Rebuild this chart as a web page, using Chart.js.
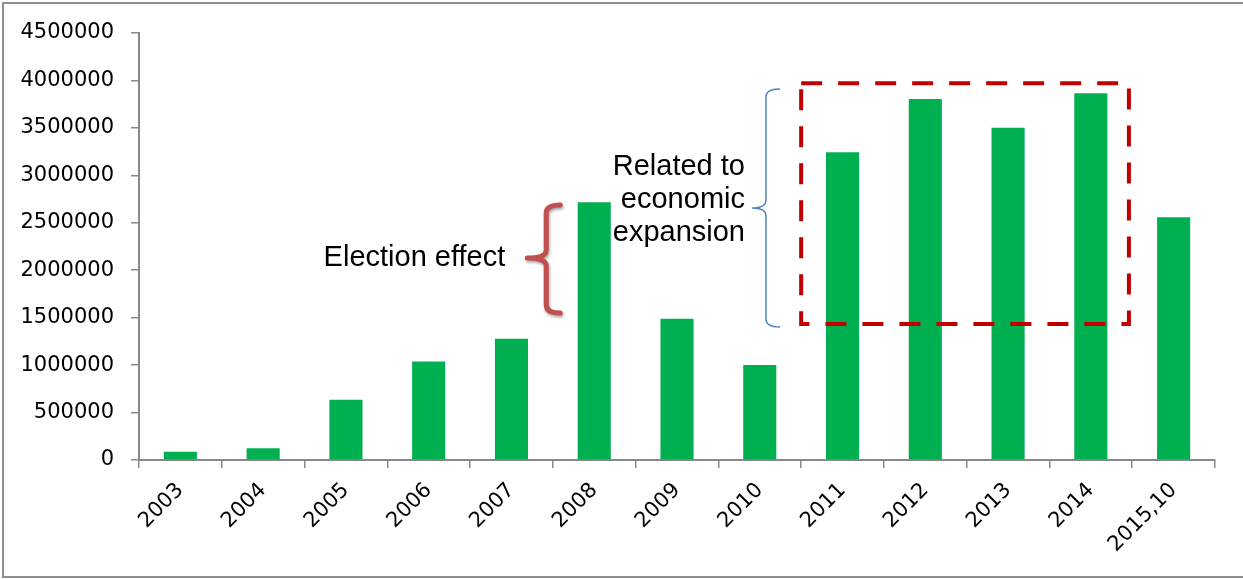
<!DOCTYPE html>
<html>
<head>
<meta charset="utf-8">
<script src="https://cdn.jsdelivr.net/npm/chart.js@4"></script>
<style>
  html, body { margin: 0; padding: 0; background: #fff; }
  #wrap { width: 1243px; height: 579px; }
</style>
</head>
<body>
<div id="wrap"><canvas id="chart" width="1243" height="579"></canvas></div>
<script>
// yearly totals
const years = ['2003', '2004', '2005', '2006', '2007', '2008', '2009', '2010', '2011', '2012', '2013', '2014', '2015,10'];
const totals = [88000, 124000, 636000, 1037000, 1279000, 2716000, 1489000, 1001000, 3243000, 3805000, 3502000, 3865000, 2558000];
const yMax = 4500000;
const yStep = 500000;

const AXIS_GRAY = '#898989';
const tickFont = { family: 'DejaVu Sans', size: 21 };
const noteFont = '29px "Liberation Sans", Arial, sans-serif';

// curly brace opening to the right, point on the left
function brace(ctx, x, top, mid, bottom, arm, tip) {
  const r = 8;
  ctx.beginPath();
  ctx.moveTo(x + arm, top);
  ctx.quadraticCurveTo(x, top, x, top + r);
  ctx.lineTo(x, mid - r);
  ctx.quadraticCurveTo(x, mid, tip, mid);
  ctx.quadraticCurveTo(x, mid, x, mid + r);
  ctx.lineTo(x, bottom - r);
  ctx.quadraticCurveTo(x, bottom, x + arm, bottom);
  ctx.stroke();
}

const notes = {
  id: 'notes',
  beforeDraw(chart) {
    const ctx = chart.ctx;
    ctx.save();
    ctx.strokeStyle = '#8f8f8f';
    ctx.lineWidth = 2;
    ctx.beginPath();
    ctx.moveTo(1243, 3); ctx.lineTo(3, 3); ctx.lineTo(3, 577); ctx.lineTo(1243, 577);
    ctx.stroke();
    ctx.restore();
  },
  afterDatasetsDraw(chart) {
    const ctx = chart.ctx;
    const xs = chart.scales.x, ys = chart.scales.y;
    ctx.save();

    // election bracket around 2008
    const ex = xs.getPixelForValue(4.42);
    const eTop = ys.getPixelForValue(2687000);
    const eMid = ys.getPixelForValue(2129000);
    const eBot = ys.getPixelForValue(1549000);
    ctx.save();
    ctx.shadowColor = 'rgba(0,0,0,0.35)';
    ctx.shadowBlur = 3;
    ctx.shadowOffsetX = 1;
    ctx.shadowOffsetY = 2;
    ctx.strokeStyle = '#C0504D';
    ctx.lineWidth = 5;
    ctx.lineCap = 'round';
    ctx.lineJoin = 'round';
    brace(ctx, ex, eTop, eMid, eBot, 14, ex - 19);
    ctx.restore();

    ctx.fillStyle = '#000';
    ctx.font = noteFont;
    ctx.textAlign = 'right';
    ctx.textBaseline = 'alphabetic';
    ctx.fillText('Election effect', ex - 41, eMid + 8);

    // expansion bracket
    const bx = xs.getPixelForValue(7.075);
    const bTop = ys.getPixelForValue(3910000);
    const bMid = ys.getPixelForValue(2656000);
    const bBot = ys.getPixelForValue(1402000);
    ctx.strokeStyle = '#4F81BD';
    ctx.lineWidth = 1.5;
    brace(ctx, bx, bTop, bMid, bBot, 14, bx - 14);

    const lines = ['Related to', 'economic', 'expansion'];
    lines.forEach((t, i) => ctx.fillText(t, bx - 21, bMid + (i - 1) * 33));

    // dashed box over 2011-2014
    const l = xs.getPixelForValue(7.5), r = xs.getPixelForValue(11.46);
    const t = ys.getPixelForValue(3970000), b = ys.getPixelForValue(1433000);
    ctx.strokeStyle = '#C00000';
    ctx.lineWidth = 4;
    ctx.setLineDash([21, 16]);
    ctx.strokeRect(l, t, r - l, b - t);
    ctx.restore();
  }
};

new Chart(document.getElementById('chart'), {
  type: 'bar',
  data: {
    labels: years,
    datasets: [{
      data: totals,
      backgroundColor: '#00B050',
      barPercentage: 0.4,
      categoryPercentage: 1.0
    }]
  },
  options: {
    responsive: false,
    animation: false,
    layout: { padding: { top: 33, right: 28, bottom: 0, left: 0 } },
    plugins: { legend: { display: false }, tooltip: { enabled: false } },
    scales: {
      x: {
        afterFit: s => { s.height = 119; },
        border: { color: AXIS_GRAY, width: 2 },
        grid: { drawOnChartArea: false, color: AXIS_GRAY, lineWidth: 1.5, tickLength: 8, offset: true },
        ticks: { color: '#000', font: tickFont, minRotation: 45, maxRotation: 45, padding: 10, autoSkip: false }
      },
      y: {
        min: 0,
        max: yMax,
        afterFit: s => { s.width = 139; },
        border: { color: AXIS_GRAY, width: 2 },
        grid: { drawOnChartArea: false, color: AXIS_GRAY, lineWidth: 1.5, tickLength: 8 },
        ticks: { stepSize: yStep, color: '#000', font: tickFont, padding: 17, callback: v => v }
      }
    }
  },
  plugins: [notes]
});
</script>
</body>
</html>
